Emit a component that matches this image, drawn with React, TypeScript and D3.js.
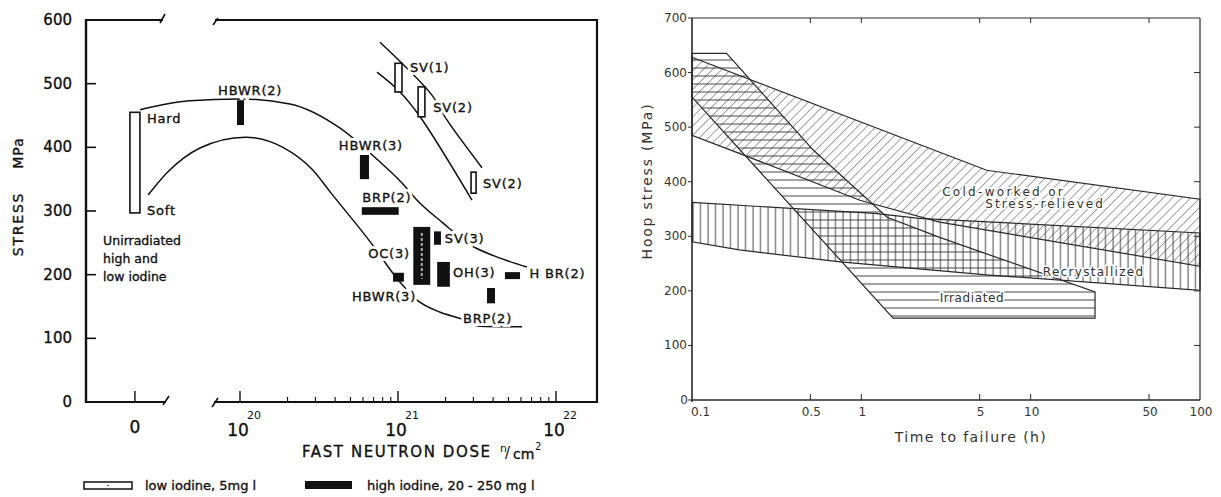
import React from 'react';
import * as d3 from 'd3';

// ================= LEFT PANEL DATA (stress vs fast neutron dose) =================
const stressTicksL = [100, 200, 300, 400, 500];
const stressLabelsL = [0, 100, 200, 300, 400, 500, 600];
const doseDecades = [1e20, 1e21, 1e22];
const doseExponents = ['20', '21', '22'];
const minorMultipliers = [2, 3, 4, 5, 6, 7, 8, 9];
const ZERO_TICK_DOSE = 10 ** 19.335; // position of the "0" (unirradiated) tick on the broken axis

// [dose n/cm2, stress MPa]
const upperCurve: [number, number][] = [
  [2.33e19, 459], [4.8e19, 473], [1.0e20, 476], [2.07e20, 468], [4.3e20, 430],
  [7.46e20, 380], [1.06e21, 344], [1.32e21, 317], [1.93e21, 281], [2.86e21, 247],
  [4.43e21, 226], [6.55e21, 212],
];
const lowerCurve: [number, number][] = [
  [2.62e19, 325], [3.45e19, 360], [5.58e19, 399], [1.08e20, 416], [1.87e20, 400],
  [2.9e20, 364], [3.72e20, 330], [6.84e20, 248], [1.0e21, 192], [1.32e21, 160],
  [1.85e21, 141], [2.57e21, 130], [3.3e21, 119], [6.1e21, 118],
];
const svUpperLine: [number, number][] = [[7.69e20, 565], [1.64e21, 482], [2.04e21, 443], [3.4e21, 368]];
const svLowerLine: [number, number][] = [[7.36e20, 518], [1.03e21, 487], [1.38e21, 448], [2.94e21, 317]];

// high iodine bars: [doseLo, doseHi, stressLo, stressHi]
const highIodineBars: [number, number, number, number][] = [
  [0.957e20, 1.06e20, 435, 474],   // HBWR(2)
  [5.74e20, 6.55e20, 350, 388],    // HBWR(3)
  [5.9e20, 1.01e21, 294, 306],     // BRP(2)
  [1.25e21, 1.6e21, 184, 275],     // OC(3)
  [1.69e21, 1.87e21, 247, 268],    // SV(3)
  [9.3e20, 1.09e21, 189, 203],     // HBWR(3)
  [1.77e21, 2.13e21, 181, 220],    // OH(3)
  [4.75e21, 5.92e21, 193, 204],    // HBR(2)
  [3.66e21, 4.11e21, 155, 179],    // BRP(2)
];
// low iodine bars
const lowIodineBars: [number, number, number, number][] = [
  [9.57e20, 1.06e21, 487, 532],    // SV(1)
  [1.34e21, 1.48e21, 448, 495],    // SV(2)
  [2.9e21, 3.12e21, 328, 361],     // SV(2)
];
const unirradiatedBar: [number, number] = [297, 455];

const pointLabels: { text: string; dose: number; stress: number; anchor: string }[] = [
  { text: 'HBWR(2)', dose: 1.16e20, stress: 490, anchor: 'middle' },
  { text: 'Hard', dose: 2.58e19, stress: 446, anchor: 'start' },
  { text: 'Soft', dose: 2.58e19, stress: 302, anchor: 'start' },
  { text: 'HBWR(3)', dose: 6.74e20, stress: 404, anchor: 'middle' },
  { text: 'BRP(2)', dose: 8.5e20, stress: 322, anchor: 'middle' },
  { text: 'SV(1)', dose: 1.19e21, stress: 526, anchor: 'start' },
  { text: 'SV(2)', dose: 1.67e21, stress: 463, anchor: 'start' },
  { text: 'SV(2)', dose: 3.45e21, stress: 344, anchor: 'start' },
  { text: 'SV(3)', dose: 1.98e21, stress: 258, anchor: 'start' },
  { text: 'OC(3)', dose: 1.19e21, stress: 234, anchor: 'end' },
  { text: 'HBWR(3)', dose: 8.15e20, stress: 166, anchor: 'middle' },
  { text: 'OH(3)', dose: 2.23e21, stress: 204, anchor: 'start' },
  { text: 'H BR(2)', dose: 6.8e21, stress: 203, anchor: 'start' },
  { text: 'BRP(2)', dose: 2.58e21, stress: 132, anchor: 'start' },
];
const unirradiatedNote = ['Unirradiated', 'high and', 'low iodine'];
const unirradiatedNoteStress = [254, 226, 198];
const unirradiatedNoteDose = 1.36e19;

// ================= RIGHT PANEL DATA (hoop stress vs time to failure) =================
const hoopTicks = [0, 100, 200, 300, 400, 500, 600, 700];
const timeTicks = [0.1, 0.5, 1, 5, 10, 50, 100];
const timeTickLabels = ['0.1', '0.5', '1', '5', '10', '50', '100'];

const coldWorkedUpper: [number, number][] = [[0.1, 628], [5.5, 421], [100, 368]];
const coldWorkedLower: [number, number][] = [[0.1, 485], [0.19, 452], [0.98, 366], [2.9, 326], [100, 245]];
const recrystUpper: [number, number][] = [[0.1, 362], [1.2, 342], [2.2, 333], [100, 306]];
const recrystLower: [number, number][] = [[0.1, 290], [0.19, 275], [0.75, 253], [5.7, 229], [100, 201]];
const irradiatedUpper: [number, number][] = [[0.1, 635], [0.16, 635], [0.52, 458], [1.42, 335], [2.9, 298], [24, 198]];
const irradiatedLower: [number, number][] = [[0.1, 555], [1.54, 150], [24, 150]];

const regionLabels: { text: string; t: number; stress: number; spacing: number }[] = [
  { text: 'Cold-worked or', t: 3.0, stress: 381, spacing: 2.3 },
  { text: 'Stress-relieved', t: 5.4, stress: 359, spacing: 2.0 },
  { text: 'Recrystallized', t: 11.8, stress: 234, spacing: 1.3 },
  { text: 'Irradiated', t: 2.9, stress: 187, spacing: 0.6 },
];

export default function App() {
  // ---------- left scales ----------
  const yL = d3.scaleLinear().domain([0, 600]).range([402, 20]);
  const xL = d3.scaleLog().domain([1e20, 1e22]).range([240, 556]);
  const xZero = xL(ZERO_TICK_DOSE);
  const lineL = d3.line<[number, number]>().x(d => xL(d[0])).y(d => yL(d[1])).curve(d3.curveMonotoneX);
  const lineStraight = d3.line<[number, number]>().x(d => xL(d[0])).y(d => yL(d[1])).curve(d3.curveCatmullRom);

  const leftX = 86, rightX = 597, topY = yL(600), botY = yL(0);

  // ---------- right scales ----------
  const yR = d3.scaleLinear().domain([0, 700]).range([400, 18]);
  const xR = d3.scaleLog().domain([0.1, 100]).range([692, 1200]);
  const lineR = d3.line<[number, number]>().x(d => xR(d[0])).y(d => yR(d[1]));
  const poly = (up: [number, number][], lo: [number, number][]) =>
    lineR([...up, ...lo.slice().reverse()]) + 'Z';

  const minorTicks: number[] = [];
  [1e20, 1e21].forEach(dec => minorMultipliers.forEach(m => minorTicks.push(dec * m)));

  const lf = 'DejaVu Sans, sans-serif';
  const ink = '#111';
  const rInk = '#2a2a2a';
  const heavy = { stroke: ink, strokeWidth: 0.35 };

  return (
    <svg width={1221} height={497} style={{ position: 'absolute', left: 0, top: 0, background: '#fff' }}
      xmlns="http://www.w3.org/2000/svg">
      <defs>
        <pattern id="diag" patternUnits="userSpaceOnUse" width="6.5" height="6.5" patternTransform="rotate(45)">
          <line x1="0" y1="0" x2="0" y2="6.5" stroke="#333" strokeWidth="0.9" />
        </pattern>
        <pattern id="horiz" patternUnits="userSpaceOnUse" width="8" height="8">
          <line x1="0" y1="4" x2="8" y2="4" stroke="#333" strokeWidth="0.9" />
        </pattern>
        <pattern id="vert" patternUnits="userSpaceOnUse" width="7.5" height="7.5">
          <line x1="3" y1="0" x2="3" y2="7.5" stroke="#333" strokeWidth="0.9" />
        </pattern>
      </defs>

      {/* ================= LEFT PANEL ================= */}
      <g fontFamily={lf} fill={ink}>
        {/* frame with axis break */}
        <g stroke={ink} fill="none" strokeLinecap="butt">
          <line x1={leftX} y1={topY} x2={163} y2={topY} strokeWidth={2.2} />
          <line x1={160} y1={topY + 3} x2={165} y2={topY - 6} strokeWidth={1.6} />
          <line x1={215} y1={topY} x2={rightX} y2={topY} strokeWidth={2.2} />
          <line x1={213} y1={topY + 5} x2={218} y2={topY - 2} strokeWidth={1.6} />
          <line x1={rightX} y1={topY - 1} x2={rightX} y2={botY + 1} strokeWidth={2.2} />
          <line x1={leftX} y1={topY - 1} x2={leftX} y2={botY + 1} strokeWidth={2.4} />
          <line x1={leftX} y1={botY} x2={166} y2={botY} strokeWidth={2.2} />
          <line x1={163} y1={botY + 3} x2={169} y2={botY - 6} strokeWidth={1.6} />
          <line x1={214} y1={botY} x2={rightX} y2={botY} strokeWidth={2.2} />
          <line x1={212} y1={botY + 5} x2={218} y2={botY - 4} strokeWidth={1.6} />
        </g>
        {/* y ticks */}
        {stressTicksL.map(s => (
          <line key={'yt' + s} x1={leftX} x2={leftX + 10} y1={yL(s)} y2={yL(s)} stroke={ink} strokeWidth={1.6} />
        ))}
        {stressLabelsL.map(s => (
          <text key={'yl' + s} x={72} y={yL(s) + 5} fontSize={15} textAnchor="end" {...heavy}>{s}</text>
        ))}
        {/* x ticks */}
        <line x1={xZero} x2={xZero} y1={botY} y2={botY - 11} stroke={ink} strokeWidth={1.4} />
        {doseDecades.map(d => (
          <line key={'xt' + d} x1={xL(d)} x2={xL(d)} y1={botY} y2={botY - 11} stroke={ink} strokeWidth={1.4} />
        ))}
        {minorTicks.map(d => (
          <line key={'mt' + d} x1={xL(d)} x2={xL(d)} y1={botY} y2={botY - 5} stroke={ink} strokeWidth={1.1} />
        ))}
        <text x={xZero} y={433} fontSize={17} textAnchor="middle" {...heavy}>0</text>
        {doseDecades.map((d, i) => (
          <g key={'xl' + d}>
            <text x={xL(d) - 2} y={436} fontSize={17} textAnchor="middle" {...heavy}>10</text>
            <text x={xL(d) + 7} y={419} fontSize={11}>{doseExponents[i]}</text>
          </g>
        ))}
        <text x={302} y={457} fontSize={15} letterSpacing={1.6} {...heavy}>
          FAST NEUTRON DOSE
        </text>
        <text x={500} y={452} fontSize={11}>n</text>
        <text x={505} y={458} fontSize={15}>/</text>
        <text x={513} y={459} fontSize={14} {...heavy}>cm</text>
        <text x={535} y={450} fontSize={10}>2</text>
        {/* y title */}
        <text transform={`translate(23,224) rotate(-90)`} fontSize={14} textAnchor="middle" letterSpacing={1.8} {...heavy}>STRESS</text>
        <text transform={`translate(23,153) rotate(-90)`} fontSize={14} textAnchor="middle" letterSpacing={1} {...heavy}>MPa</text>

        {/* curves */}
        <g fill="none" stroke={ink} strokeWidth={1.5}>
          <path d={lineL(upperCurve) || ''} />
          <path d={lineL(lowerCurve) || ''} />
          <path d={lineStraight(svUpperLine) || ''} />
          <path d={lineStraight(svLowerLine) || ''} />
        </g>

        {/* labels with white halo (interrupt the curves) */}
        {pointLabels.map((l, i) => (
          <g key={'pl' + i}>
            <text x={xL(l.dose)} y={yL(l.stress) + 5} fontSize={13} letterSpacing={0.8}
              textAnchor={l.anchor as any} stroke="#fff" strokeWidth={6} fill="#fff">
              {l.text}
            </text>
            <text x={xL(l.dose)} y={yL(l.stress) + 5} fontSize={13} letterSpacing={0.8}
              textAnchor={l.anchor as any} fill={ink} {...heavy}>
              {l.text}
            </text>
          </g>
        ))}
        {unirradiatedNote.map((t, i) => (
          <text key={'un' + i} x={xL(unirradiatedNoteDose)} y={yL(unirradiatedNoteStress[i]) + 5} fontSize={12.5} {...heavy}>{t}</text>
        ))}

        {/* open bars (low iodine) */}
        <rect x={xZero - 5} y={yL(unirradiatedBar[1])} width={10} height={yL(unirradiatedBar[0]) - yL(unirradiatedBar[1])}
          fill="#fff" stroke={ink} strokeWidth={1.6} />
        {lowIodineBars.map((b, i) => (
          <rect key={'lb' + i} x={xL(b[0])} y={yL(b[3])} width={xL(b[1]) - xL(b[0])} height={yL(b[2]) - yL(b[3])}
            fill="#fff" stroke={ink} strokeWidth={1.6} />
        ))}
        {/* filled bars (high iodine) */}
        {highIodineBars.map((b, i) => (
          <rect key={'hb' + i} x={xL(b[0])} y={yL(b[3])} width={xL(b[1]) - xL(b[0])} height={yL(b[2]) - yL(b[3])}
            fill={ink} />
        ))}
        <line x1={(xL(highIodineBars[3][0]) + xL(highIodineBars[3][1])) / 2} x2={(xL(highIodineBars[3][0]) + xL(highIodineBars[3][1])) / 2}
          y1={yL(highIodineBars[3][3]) + 6} y2={yL(highIodineBars[3][2]) - 6} stroke="#aaa" strokeWidth={2} strokeDasharray="3 2" />

        {/* legend */}
        <rect x={84} y={482} width={48} height={7} fill="#fff" stroke={ink} strokeWidth={1.5} />
        <circle cx={108} cy={485.5} r={0.8} fill={ink} />
        <text x={145} y={490} fontSize={13} {...heavy}>low iodine, 5mg l</text>
        <rect x={305} y={481} width={47} height={8} fill={ink} />
        <text x={367} y={490} fontSize={13} {...heavy}>high iodine,  20 - 250 mg l</text>
      </g>

      {/* ================= RIGHT PANEL ================= */}
      <g fontFamily={lf}>
        {/* hatched regions */}
        <path d={poly(recrystUpper, recrystLower)} fill="url(#vert)" />
        <path d={poly(irradiatedUpper, irradiatedLower)} fill="url(#horiz)" />
        <path d={poly(coldWorkedUpper, coldWorkedLower)} fill="url(#diag)" />
        <g fill="none" stroke={rInk} strokeWidth={1.2}>
          <path d={poly(recrystUpper, recrystLower)} />
          <path d={poly(irradiatedUpper, irradiatedLower)} />
          <path d={poly(coldWorkedUpper, coldWorkedLower)} />
        </g>

        {/* frame */}
        <g stroke={rInk} fill="none">
          <line x1={xR(0.1)} x2={xR(0.1)} y1={yR(700)} y2={yR(0) + 2} strokeWidth={1.6} />
          <line x1={xR(0.1)} x2={xR(100)} y1={yR(0)} y2={yR(0)} strokeWidth={1.6} />
          <line x1={xR(0.1)} x2={xR(100)} y1={yR(700)} y2={yR(700)} strokeWidth={1.2} />
          <line x1={xR(100)} x2={xR(100)} y1={yR(700)} y2={yR(0)} strokeWidth={1.2} />
        </g>
        {hoopTicks.map(s => (
          <g key={'rt' + s}>
            <line x1={xR(0.1) - 4} x2={xR(0.1)} y1={yR(s)} y2={yR(s)} stroke={rInk} strokeWidth={1} />
            {s > 0 && s < 700 && <line x1={xR(100) - 6} x2={xR(100)} y1={yR(s)} y2={yR(s)} stroke={rInk} strokeWidth={1} />}
            <text x={s === 0 ? 688 : 687} y={yR(s) + 4} fontSize={12} textAnchor="end" fill="#333">{s}</text>
          </g>
        ))}
        {timeTicks.map((t, i) => (
          <g key={'tt' + t}>
            {t > 0.1 && t < 100 && (
              <>
                <line x1={xR(t)} x2={xR(t)} y1={yR(0)} y2={yR(0) - 6} stroke={rInk} strokeWidth={1} />
                <line x1={xR(t)} x2={xR(t)} y1={yR(700)} y2={yR(700) + 5} stroke={rInk} strokeWidth={1} />
              </>
            )}
            <text x={t === 0.1 ? xR(t) - 1 : xR(t) + 1} y={416} fontSize={12} fill="#333"
              textAnchor={t === 0.1 ? 'start' : 'middle'}>{timeTickLabels[i]}</text>
          </g>
        ))}
        <text x={971} y={442} fontSize={14} textAnchor="middle" letterSpacing={1.4} fill="#333">Time to failure (h)</text>
        <text transform="translate(652,181) rotate(-90)" fontSize={14} textAnchor="middle" letterSpacing={1.8} fill="#333">
          Hoop stress (MPa)
        </text>

        {/* region labels */}
        {regionLabels.map((r, i) => (
          <text key={'rl' + i} x={xR(r.t)} y={yR(r.stress) + 4} fontSize={12} letterSpacing={r.spacing} fill="#333"
            stroke="#fff" strokeWidth={3} paintOrder="stroke">{r.text}</text>
        ))}
      </g>
    </svg>
  );
}
